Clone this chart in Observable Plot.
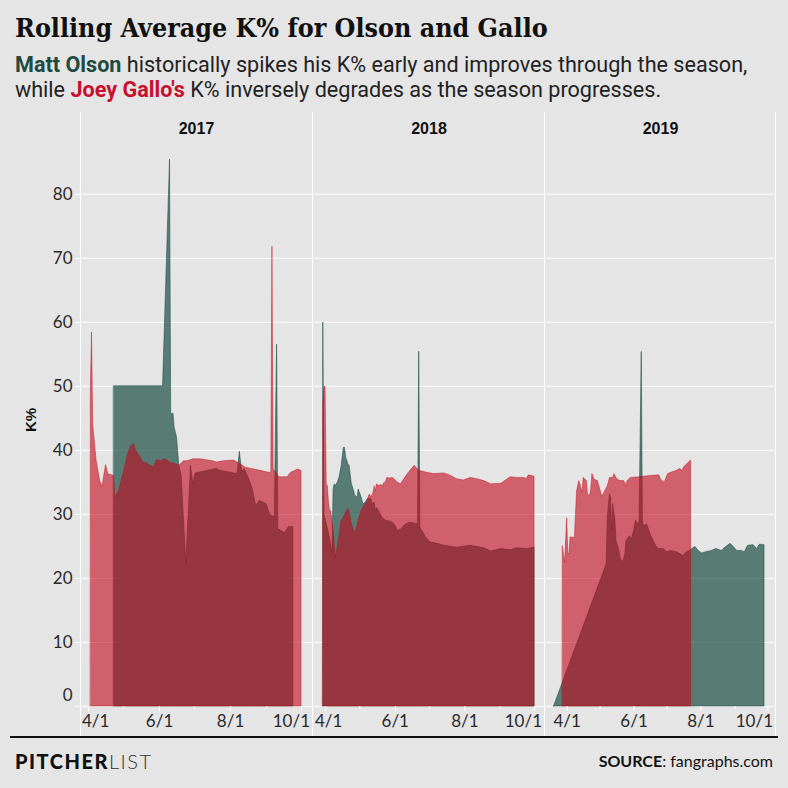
<!DOCTYPE html>
<html>
<head>
<meta charset="utf-8">
<script src="https://cdn.jsdelivr.net/npm/d3@7"></script>
<script src="https://cdn.jsdelivr.net/npm/@observablehq/plot@0.6"></script>
<style>
  html, body { margin: 0; padding: 0; background: #e5e5e5; }
  #wrap { position: relative; width: 788px; height: 788px; background: #e5e5e5; overflow: hidden; }
  #wrap svg { position: absolute; }
</style>
</head>
<body>
<div id="wrap">
  <svg id="bg" width="788" height="788" style="left:0;top:0">
    <text x="15" y="37" font-family="DejaVu Serif Condensed, DejaVu Serif, serif" font-stretch="condensed" font-weight="bold" font-size="26.6" fill="#111">Rolling Average K% for Olson and Gallo</text>
    <text x="15" y="72" font-family="Roboto, sans-serif" font-size="21.6" fill="#222"><tspan font-weight="bold" fill="#1e4a40">Matt Olson</tspan> historically spikes his K% early and improves through the season,</text>
    <text x="15" y="97" font-family="Roboto, sans-serif" font-size="21.6" fill="#222">while <tspan font-weight="bold" fill="#c8102e">Joey Gallo's</tspan> K% inversely degrades as the season progresses.</text>
    <g stroke="#ffffff" stroke-width="1">
      <line x1="80.5" x2="80.5" y1="112" y2="737"></line>
      <line x1="312.5" x2="312.5" y1="112" y2="737"></line>
      <line x1="544.5" x2="544.5" y1="112" y2="737"></line>
      <line x1="775.5" x2="775.5" y1="112" y2="737"></line>
    </g>
    <text transform="translate(36,420) rotate(-90)" text-anchor="middle" font-family="Liberation Sans, sans-serif" font-weight="bold" font-size="15" fill="#111">K%</text>
    <line x1="10" x2="778" y1="737" y2="737" stroke="#111" stroke-width="2"></line>
    <text x="15" y="769" font-family="Lato, sans-serif" font-size="20" letter-spacing="1.5" fill="#111"><tspan font-weight="900">PITCHER</tspan><tspan font-weight="300" fill="#333">LIST</tspan></text>
    <text x="773" y="767" text-anchor="end" font-family="Lato, sans-serif" font-size="16" fill="#111"><tspan font-weight="bold">SOURCE</tspan>: fangraphs.com</text>
  </svg>
</div>
<script>
// ---------- data ----------
const years = [2017, 2018, 2019];

const gallo2017 = [["2017-04-03",50],["2017-04-04",58.4],["2017-04-05",44],["2017-04-08",38.3],["2017-04-11",35.2],["2017-04-13",34.3],["2017-04-16",37.7],["2017-04-18",36.3],["2017-04-21",36.1],["2017-04-23",36],["2017-04-24",32.6],["2017-04-27",33.6],["2017-05-01",36.3],["2017-05-05",39.4],["2017-05-08",40.7],["2017-05-10",41],["2017-05-12",39.9],["2017-05-15",39.1],["2017-05-18",38.1],["2017-05-21",38],["2017-05-27",37.3],["2017-05-30",38.5],["2017-06-02",38.3],["2017-06-06",38.6],["2017-06-10",38.1],["2017-06-14",37.9],["2017-06-18",37.6],["2017-06-22",38.3],["2017-06-25",38.3],["2017-06-30",38.6],["2017-07-06",38.6],["2017-07-17",38.3],["2017-07-20",38.1],["2017-07-26",38.3],["2017-08-04",38.4],["2017-08-09",37.9],["2017-08-14",37.3],["2017-08-27",36.8],["2017-09-03",36.5],["2017-09-05",36.5],["2017-09-06",71.8],["2017-09-07",37],["2017-09-12",35.8],["2017-09-19",35.8],["2017-09-22",36.5],["2017-09-28",37],["2017-10-01",36.8]];

const olson2017 = [["2017-04-23",50],["2017-06-04",50],["2017-06-10",85.4],["2017-06-11",45.7],["2017-06-13",45.7],["2017-06-14",43.5],["2017-06-16",42],["2017-06-18",37.6],["2017-06-20",36],["2017-06-24",22.3],["2017-06-28",37.6],["2017-06-30",34.7],["2017-07-02",36.4],["2017-07-20",37.1],["2017-07-23",36.8],["2017-08-07",36.3],["2017-08-09",39.8],["2017-08-11",36.5],["2017-08-13",37.1],["2017-08-17",35.5],["2017-08-20",34],["2017-08-23",31.3],["2017-08-26",32.1],["2017-09-01",31.6],["2017-09-04",30],["2017-09-08",29.5],["2017-09-10",56.5],["2017-09-11",27.7],["2017-09-13",27.5],["2017-09-17",27.1],["2017-09-20",28],["2017-09-24",28]];

const gallo2018 = [["2018-03-30",47.2],["2018-03-31",49.9],["2018-04-01",49.9],["2018-04-02",34.7],["2018-04-03",34.4],["2018-04-04",31.8],["2018-04-05",30.5],["2018-04-06",30.5],["2018-04-07",29],["2018-04-08",27.4],["2018-04-10",23.2],["2018-04-11",24.3],["2018-04-13",26.4],["2018-04-15",29],["2018-04-17",29.5],["2018-04-20",30.6],["2018-04-21",30.8],["2018-04-22",30.5],["2018-04-24",28.4],["2018-04-26",27.4],["2018-04-27",27.1],["2018-04-28",27.6],["2018-04-30",29],["2018-05-02",30.3],["2018-05-04",31],["2018-05-06",31.6],["2018-05-08",32.1],["2018-05-09",32.9],["2018-05-10",33.1],["2018-05-11",32.6],["2018-05-13",33.4],["2018-05-14",34.4],["2018-05-15",33.6],["2018-05-16",34.7],["2018-05-18",34.4],["2018-05-19",34.6],["2018-05-21",34.4],["2018-05-22",34.8],["2018-05-24",35.1],["2018-05-25",35.7],["2018-05-27",35.6],["2018-05-30",35.7],["2018-06-02",35.2],["2018-06-03",35],["2018-06-06",34.7],["2018-06-12",36.3],["2018-06-18",37.6],["2018-06-22",36.8],["2018-06-29",36.5],["2018-07-05",36.3],["2018-07-14",36.4],["2018-07-20",36],["2018-07-25",35.5],["2018-07-31",35.3],["2018-08-06",35.7],["2018-08-12",35.5],["2018-08-18",35.2],["2018-08-24",34.7],["2018-09-02",34.8],["2018-09-10",35.8],["2018-09-16",35.7],["2018-09-22",35.7],["2018-09-24",35.5],["2018-09-26",36.1],["2018-10-01",35.9]];

const olson2018 = [["2018-03-30",59.9],["2018-03-31",30],["2018-04-04",27],["2018-04-07",24],["2018-04-08",33.9],["2018-04-09",34.7],["2018-04-10",34.4],["2018-04-12",35.1],["2018-04-13",35.6],["2018-04-15",37.4],["2018-04-17",40.4],["2018-04-18",40.4],["2018-04-19",38.9],["2018-04-21",37.8],["2018-04-22",37.6],["2018-04-24",34.7],["2018-04-25",34.2],["2018-04-27",32.9],["2018-04-29",32.6],["2018-04-30",33.9],["2018-05-01",33.4],["2018-05-03",32.4],["2018-05-04",31.6],["2018-05-06",31.8],["2018-05-08",32.4],["2018-05-09",32.4],["2018-05-11",32.4],["2018-05-12",31.6],["2018-05-14",31.8],["2018-05-15",30.5],["2018-05-16",31],["2018-05-18",30.5],["2018-05-21",29.4],["2018-05-24",29],["2018-05-27",28.9],["2018-05-30",28.7],["2018-06-02",28],["2018-06-03",27.4],["2018-06-06",27.6],["2018-06-10",28.4],["2018-06-14",28.7],["2018-06-20",28.5],["2018-06-21",28.5],["2018-06-22",55.4],["2018-06-23",27.9],["2018-06-28",26.4],["2018-07-02",25.6],["2018-07-08",25.4],["2018-07-14",25.1],["2018-07-25",24.8],["2018-08-06",25.1],["2018-08-18",24.7],["2018-08-24",24.2],["2018-09-02",24.6],["2018-09-10",24.4],["2018-09-16",24.7],["2018-09-25",24.6],["2018-10-01",24.8]];

const gallo2019 = [["2019-03-28",25],["2019-03-30",22.4],["2019-04-01",29.4],["2019-04-02",24],["2019-04-03",23.7],["2019-04-04",26.4],["2019-04-08",26.3],["2019-04-10",33.6],["2019-04-12",35.2],["2019-04-13",34.7],["2019-04-15",33.4],["2019-04-16",35.7],["2019-04-19",35.2],["2019-04-20",33],["2019-04-22",33],["2019-04-23",34],["2019-04-24",36.3],["2019-04-26",35.4],["2019-04-29",35.2],["2019-05-02",33.4],["2019-05-03",32.7],["2019-05-05",33.4],["2019-05-08",34.4],["2019-05-10",35.7],["2019-05-13",35.7],["2019-05-14",36.3],["2019-05-17",35.4],["2019-05-20",35.2],["2019-05-23",35.2],["2019-05-25",34.4],["2019-05-26",35.2],["2019-05-29",35.7],["2019-06-06",35.8],["2019-06-16",36],["2019-06-24",36.1],["2019-06-26",35.3],["2019-06-29",35],["2019-07-02",36.3],["2019-07-05",36.5],["2019-07-10",36.8],["2019-07-13",37.1],["2019-07-15",36.8],["2019-07-17",37.4],["2019-07-21",38.1],["2019-07-23",38.4]];

const olson2019 = [["2019-03-20",0],["2019-05-07",22.2],["2019-05-08",29.5],["2019-05-10",33.1],["2019-05-11",32.6],["2019-05-12",27.4],["2019-05-13",31.6],["2019-05-15",29],["2019-05-16",25.8],["2019-05-18",24.8],["2019-05-20",23],["2019-05-22",22.5],["2019-05-24",23.7],["2019-05-25",25.8],["2019-05-27",26.3],["2019-05-28",26.6],["2019-05-30",26.1],["2019-06-01",27.4],["2019-06-02",28.4],["2019-06-03",29],["2019-06-05",28.4],["2019-06-06",28.7],["2019-06-08",55.4],["2019-06-09",29],["2019-06-10",28.2],["2019-06-13",28.4],["2019-06-16",26.9],["2019-06-20",25.4],["2019-06-23",24.6],["2019-06-28",24.6],["2019-07-01",24.1],["2019-07-04",24.3],["2019-07-10",24.1],["2019-07-13",23.8],["2019-07-16",23.5],["2019-07-19",24.1],["2019-07-22",24.3],["2019-07-24",24.6],["2019-07-27",24.9],["2019-07-30",24.3],["2019-08-02",23.9],["2019-08-06",24.1],["2019-08-11",24.3],["2019-08-15",24.6],["2019-08-20",24.3],["2019-08-24",24.9],["2019-08-28",25.4],["2019-08-31",24.9],["2019-09-03",24.3],["2019-09-07",24.3],["2019-09-10",24.1],["2019-09-13",25.1],["2019-09-18",25.2],["2019-09-21",24.6],["2019-09-24",25.3],["2019-09-27",25.2],["2019-09-28",25.2]];

const xDomains = {
  2017: ["2017-03-25T02:00Z", "2017-10-10T10:00Z"],
  2018: ["2018-03-21T10:00Z", "2018-10-09T17:00Z"],
  2019: ["2019-03-12T05:00Z", "2019-10-08T00:00Z"]
};
const majorMonthDays = ["04-01", "06-01", "08-01", "10-01"];
const minorMonthDays = ["05-01", "07-01", "09-01"];
const yGridTicks = [0, 10, 20, 30, 40, 50, 60, 70, 80];
const yLabelTicks = [10, 20, 30, 40, 50, 60, 70, 80];
const yZeroTick = [0];
const yMax = 89.8;

// ---------- drawing ----------
const GREEN = "#1c4e44";
const RED = "#c2091a";
const parse = d3.utcParse("%Y-%m-%d");
const fmt = d3.utcFormat("%-m/%-d");
const rows = arr => arr.map(([d, v]) => ({date: parse(d), v}));
const series = {
  2017: {olson: olson2017, gallo: gallo2017},
  2018: {olson: olson2018, gallo: gallo2018},
  2019: {olson: olson2019, gallo: gallo2019}
};
const layout = {
  2017: {left: 0, width: 312, marginLeft: 80, marginRight: 0, showY: true},
  2018: {left: 312, width: 232, marginLeft: 1, marginRight: 0, showY: false},
  2019: {left: 544, width: 244, marginLeft: 1, marginRight: 13, showY: false}
};

const wrap = document.getElementById("wrap");

for (const year of years) {
  const L = layout[year];
  const major = majorMonthDays.map(md => parse(`${year}-${md}`));
  const minor = minorMonthDays.map(md => parse(`${year}-${md}`));
  const marks = [
    Plot.gridY(yGridTicks, {stroke: "#ffffff", strokeOpacity: 1, strokeWidth: 1}),
    Plot.areaY(rows(series[year].olson), {x: "date", y: "v", fill: GREEN, fillOpacity: 0.7, stroke: GREEN, strokeOpacity: 0.7, strokeWidth: 0.8}),
    Plot.areaY(rows(series[year].gallo), {x: "date", y: "v", fill: RED, fillOpacity: 0.6, stroke: RED, strokeOpacity: 0.55, strokeWidth: 0.8}),
    Plot.axisX(major, {tickSize: 5, stroke: "#ffffff", fill: "#2a2a2a", tickPadding: 3, tickFormat: fmt, fontSize: 17, fontFamily: "Lato"}),
    Plot.axisX(minor, {tickSize: 3, stroke: "#ffffff", tickFormat: () => ""}),
    Plot.text([String(year)], {text: d => d, frameAnchor: "top", dy: -9, fontWeight: "bold", fontSize: 16, fill: "#111", fontFamily: "Liberation Sans"})
  ];
  if (L.showY) {
    marks.push(
      Plot.axisY(yGridTicks, {tickSize: 5, stroke: "#ffffff", tickFormat: () => ""}),
      Plot.axisY(yLabelTicks, {tickSize: 0, tickPadding: 8, fill: "#2a2a2a", fontSize: 17, fontFamily: "Lato"}),
      Plot.axisY(yZeroTick, {tickSize: 0, tickPadding: 8, fill: "#2a2a2a", fontSize: 17, fontFamily: "Lato", dy: -11})
    );
  }
  const svg = Plot.plot({
    width: L.width,
    height: 625,
    marginTop: 19,
    marginBottom: 31,
    marginLeft: L.marginLeft,
    marginRight: L.marginRight,
    style: {background: "transparent", fontFamily: "Lato, sans-serif", fontSize: "17px", color: "#2a2a2a", overflow: "visible"},
    x: {type: "utc", domain: xDomains[year].map(s => new Date(s)), label: null},
    y: {domain: [0, yMax], label: null, ...(L.showY ? {} : {axis: null})},
    marks
  });
  svg.style.position = "absolute";
  svg.style.left = L.left + "px";
  svg.style.top = "112px";
  svg.style.maxWidth = "none";
  wrap.appendChild(svg);

  // keep end tick labels inside their panel
  const minX = L.marginLeft + 2, maxX = L.width - L.marginRight - 2;
  const sr = svg.getBoundingClientRect();
  svg.querySelectorAll('g[aria-label="x-axis tick label"] text').forEach(t => {
    const r = t.getBoundingClientRect();
    if (!r.width) return;
    const l = r.left - sr.left, rr = r.right - sr.left;
    let shift = 0;
    if (l < minX) shift = minX - l;
    else if (rr > maxX) shift = maxX - rr;
    if (shift) t.setAttribute("x", shift);
  });
}
</script>
</body>
</html>
